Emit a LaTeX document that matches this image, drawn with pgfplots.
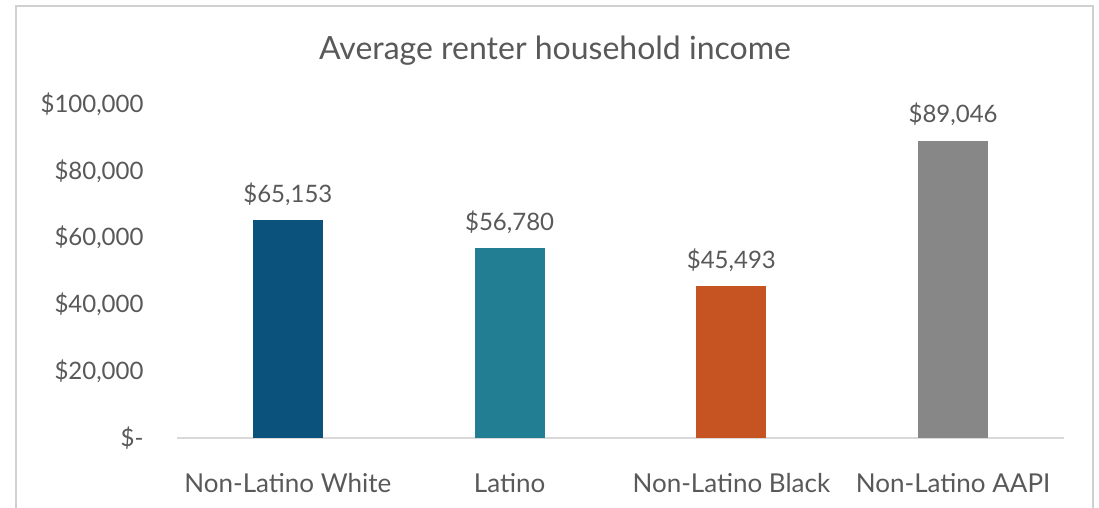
\documentclass[border=0pt]{standalone}
\usepackage{pgfplots}
\pgfplotsset{compat=1.18}
\usepackage{fontspec}
\setmainfont{Lato}
\definecolor{txt}{HTML}{595959}
\definecolor{frame}{HTML}{D0D0D0}
\definecolor{axisgray}{HTML}{D9D9D9}
\definecolor{cA}{HTML}{0B527D}
\definecolor{cB}{HTML}{227F93}
\definecolor{cC}{HTML}{C55422}
\definecolor{cD}{HTML}{878787}
\begin{document}
\begin{tikzpicture}
\path[use as bounding box] (0,0) rectangle (1099bp,508bp);
\fill[white] (0,0) rectangle (1099bp,508bp);
\draw[frame, line width=1.5bp] (16bp,-5bp) -- (16bp,502bp) -- (1093bp,502bp) -- (1093bp,-5bp);
\begin{axis}[
  at={(177bp,70bp)}, anchor=south west,
  scale only axis, width=887bp, height=334bp,
  xmin=-0.5, xmax=3.5, ymin=0, ymax=100000,
  scaled ticks=false,
  axis lines*=left,
  y axis line style={draw=none},
  x axis line style={draw=axisgray, line width=1.5bp},
  tick style={draw=none},
  xtick={0,1,2,3},
  xticklabels={Non-Latino White, Latino, Non-Latino Black, Non-Latino AAPI},
  ytick={0,20000,40000,60000,80000,100000},
  yticklabels={{\$-\hspace{11bp}}, {\$20,000}, {\$40,000}, {\$60,000}, {\$80,000}, {\$100,000}},
  yticklabel style={font=\fontsize{24bp}{28bp}\selectfont, text=txt, anchor=east, xshift=-30bp},
  xticklabel style={font=\fontsize{26bp}{30bp}\selectfont, text=txt, anchor=base, yshift=-50bp},
  ybar, bar width=70bp, bar shift=0pt,
  nodes near coords style={font=\fontsize{24bp}{28bp}\selectfont, text=txt, anchor=base, yshift=18bp},
  clip=false,
]
\addplot[fill=cA, draw=none, nodes near coords={\$65,153}] coordinates {(0,65153)};
\addplot[fill=cB, draw=none, nodes near coords={\$56,780}] coordinates {(1,56780)};
\addplot[fill=cC, draw=none, nodes near coords={\$45,493}] coordinates {(2,45493)};
\addplot[fill=cD, draw=none, nodes near coords={\$89,046}] coordinates {(3,89046)};
\end{axis}
\node[text=txt, font=\fontsize{32bp}{37bp}\selectfont, anchor=base] at (555bp,448bp) {Average renter household income};
\end{tikzpicture}
\end{document}
